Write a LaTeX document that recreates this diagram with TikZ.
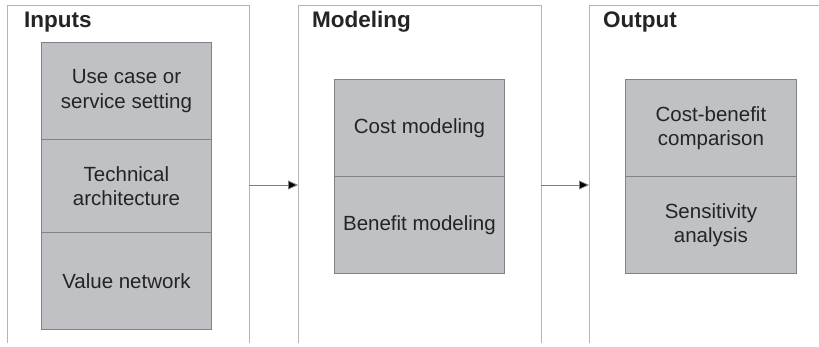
\documentclass[tikz,border=0pt]{standalone}
\usepackage{fontspec}
\setmainfont{Liberation Sans}
\usetikzlibrary{arrows.meta}
\definecolor{cellfill}{RGB}{192,193,197}
\definecolor{cellline}{RGB}{130,130,134}
\definecolor{panelline}{RGB}{180,180,184}
\definecolor{ink}{RGB}{36,36,36}
\begin{document}
\begin{tikzpicture}[x=1pt,y=-1pt,
  cell/.style={draw=cellline, line width=0.9pt, fill=cellfill, anchor=north west,
    minimum width=#1, inner sep=0pt, align=center, text=ink,
    font=\fontsize{20.5}{24.5}\selectfont},
  cell/.default=170pt,
  paneltitle/.style={anchor=base west, inner sep=0pt, text=ink,
    font=\fontsize{22.5}{26}\selectfont\bfseries},
  panelframe/.style={draw=panelline, line width=1pt},
  flow/.style={draw=panelline!70!black, line width=0.8pt,
    -{Triangle[length=10pt,width=9pt,fill=black]}}]
\useasboundingbox (0,0) rectangle (819,346);

% panel outlines (open at the bottom; the last one runs off to the right)
\coordinate (p1tl) at (7,5);   \coordinate (p1tr) at (249,5);
\coordinate (p1bl) at (7,343); \coordinate (p1br) at (249,343);
\coordinate (p2tl) at (298,5); \coordinate (p2tr) at (541,5);
\coordinate (p2bl) at (298,343); \coordinate (p2br) at (541,343);
\coordinate (p3tl) at (589,5); \coordinate (p3tr) at (819,5);
\coordinate (p3bl) at (589,343);
\draw[panelframe] (p1bl) -- (p1tl) -- (p1tr) -- (p1br);
\draw[panelframe] (p2bl) -- (p2tl) -- (p2tr) -- (p2br);
\draw[panelframe] (p3bl) -- (p3tl) -- (p3tr);

% panel titles
\node[paneltitle] (t1) at (24,27) {Inputs};
\node[paneltitle] (t2) at (312,27) {Modeling};
\node[paneltitle] (t3) at (603,27) {Output};

% inputs column
\node[cell, minimum height=97pt] (in1) at (41,42) {Use case or\\service setting};
\node[cell, minimum height=93pt] (in2) at (41,139) {Technical\\architecture};
\node[cell, minimum height=97pt] (in3) at (41,232) {Value network};

% modeling column
\node[cell, minimum height=97pt] (mo1) at (334,79) {Cost modeling};
\node[cell, minimum height=97pt] (mo2) at (334,176) {Benefit modeling};

% output column
\node[cell=171pt, minimum height=97pt] (ou1) at (625,79) {Cost-benefit\\comparison};
\node[cell=171pt, minimum height=97pt] (ou2) at (625,176) {Sensitivity\\analysis};

% flow between panels
\coordinate (a1s) at (249,185); \coordinate (a1e) at (298,185);
\coordinate (a2s) at (541,185); \coordinate (a2e) at (589,185);
\draw[flow] (a1s) -- (a1e);
\draw[flow] (a2s) -- (a2e);
\end{tikzpicture}
\end{document}
